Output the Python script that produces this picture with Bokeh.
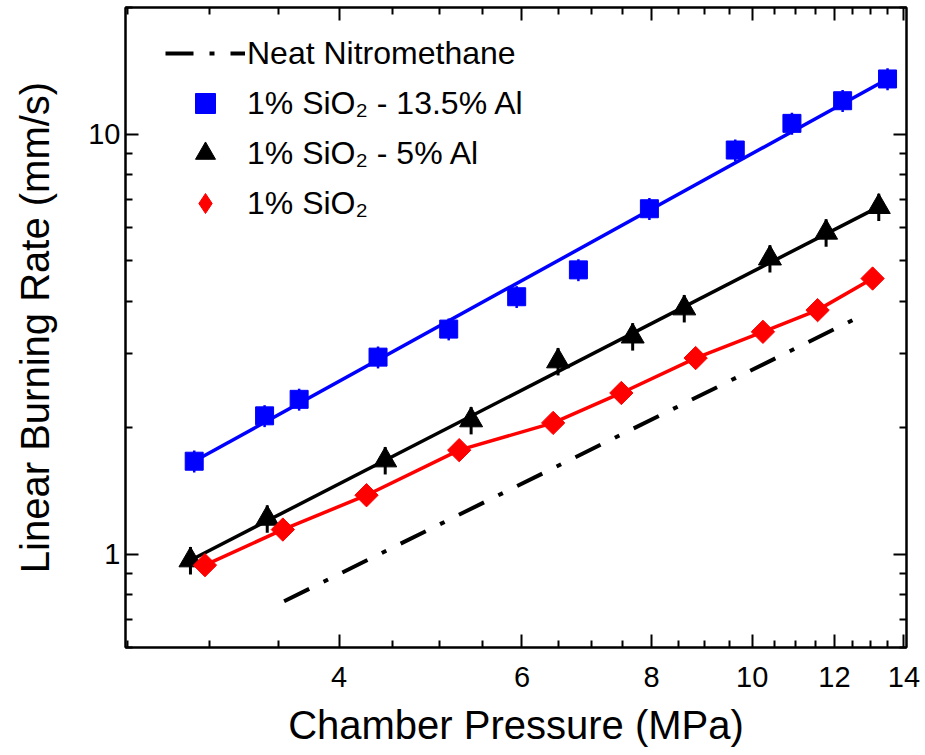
from bokeh.plotting import figure
from bokeh.models import (FixedTicker, LogAxis, Legend, LegendItem, BasicTickFormatter,
                          CustomLabelingPolicy)
from bokeh.embed import file_html
from bokeh.resources import INLINE

# ---------------- data ----------------
# Neat nitromethane: power-law fit line (end points)
neat_p = [3.54, 12.73]
neat_r = [0.773, 3.69]

# 1% SiO2 - 13.5% Al
al135_p = [2.90, 3.39, 3.66, 4.36, 5.10, 5.93, 6.80, 7.96, 9.63, 10.92, 12.22, 13.50]
al135_r = [1.665, 2.135, 2.337, 2.945, 3.434, 4.10, 4.75, 6.64, 9.16, 10.60, 12.00, 13.52]
al135_err = [0.06, 0.06, 0.06, 0.06, 0.06, 0.06, 0.06, 0.06, 0.06, 0.06, 0.06, 0.06]
al135_fit_p = [2.90, 13.50]
al135_fit_r = [1.665, 13.52]

# 1% SiO2 - 5% Al
al5_p = [2.876, 3.41, 4.43, 5.36, 6.50, 7.67, 8.60, 10.40, 11.78, 13.24]
al5_r = [0.968, 1.216, 1.674, 2.085, 2.88, 3.30, 3.85, 5.06, 5.83, 6.71]
al5_err = [0.075, 0.075, 0.075, 0.075, 0.075, 0.075, 0.075, 0.075, 0.075, 0.075]
al5_fit_p = [2.876, 13.24]
al5_fit_r = [0.968, 6.71]

# 1% SiO2
sio2_p = [2.97, 3.53, 4.25, 5.22, 6.43, 7.48, 8.82, 10.24, 11.56, 13.06]
sio2_r = [0.942, 1.145, 1.382, 1.769, 2.054, 2.42, 2.93, 3.383, 3.81, 4.53]

# ticks
x_major = [4, 6, 8, 10, 12, 14]
x_minor = [2.5, 3, 3.5, 4.5, 5, 5.5, 6.5, 7, 7.5, 8.5, 9, 9.5, 10.5, 11, 11.5, 12.5, 13, 13.5]
y_major = [1, 10]
y_minor = [0.6, 0.7, 0.8, 0.9, 2, 3, 4, 5, 6, 7, 8, 9, 20]

labels = ["Neat Nitromethane",
          "1% SiO\u2082 - 13.5% Al",
          "1% SiO\u2082 - 5% Al",
          "1% SiO\u2082"]

FONT = "Liberation Sans"

p = figure(width=922, height=752,
           x_axis_type="log", y_axis_type="log",
           x_range=(2.49, 14.08), y_range=(0.6, 20),
           output_backend="svg", toolbar_location=None,
           min_border_left=125, min_border_right=16,
           min_border_top=7, min_border_bottom=105)
p.grid.visible = False
p.background_fill_color = "white"
p.border_fill_color = "white"
p.outline_line_color = "black"
p.outline_line_width = 2

xt = FixedTicker(ticks=x_major, minor_ticks=x_minor)
yt = FixedTicker(ticks=y_major, minor_ticks=y_minor)

p.add_layout(LogAxis(ticker=xt), "above")
p.add_layout(LogAxis(ticker=yt), "right")

for ax in p.axis:
    ax.axis_line_color = "black"
    ax.axis_line_width = 2
    ax.major_tick_line_color = "black"
    ax.major_tick_line_width = 2
    ax.minor_tick_line_color = "black"
    ax.minor_tick_line_width = 2
    ax.major_tick_out = 0
    ax.major_tick_in = 13
    ax.minor_tick_out = 0
    ax.minor_tick_in = 7
    ax.major_label_text_font = FONT
    ax.major_label_text_font_size = "29px"
    ax.major_label_text_color = "black"
    ax.axis_label_text_font = FONT
    ax.axis_label_text_font_size = "40px"
    ax.axis_label_text_font_style = "normal"
    ax.axis_label_text_color = "black"
    ax.formatter = BasicTickFormatter()

p.xaxis.ticker = xt
p.yaxis.ticker = yt

bottom = p.below[0]
left = p.left[0]
bottom.axis_label = "Chamber Pressure (MPa)"
bottom.major_label_standoff = 19
bottom.axis_label_standoff = 13
left.axis_label = "Linear Burning Rate (mm/s)"
left.major_label_standoff = 5
left.axis_label_standoff = 28

# mirror axes: ticks only, no labels drawn
for ax in (p.above[0], p.right[0]):
    ax.major_label_text_font_size = "1px"
    ax.major_label_standoff = 0
    ax.axis_label_standoff = 0
    ax.major_label_policy = CustomLabelingPolicy(code="return []")

# ---------------- glyphs ----------------
r_neat = p.line(neat_p, neat_r, line_color="black", line_width=4,
                line_dash="28 16 5 16")

p.line(al135_fit_p, al135_fit_r, line_color="#0000FF", line_width=3.5)
p.line(al5_fit_p, al5_fit_r, line_color="black", line_width=3.5)
p.line(sio2_p, sio2_r, line_color="#FF0000", line_width=3.5)

# error bars
p.segment(x0=al135_p, x1=al135_p,
          y0=[r * (1 - e) for r, e in zip(al135_r, al135_err)],
          y1=[r * (1 + e) for r, e in zip(al135_r, al135_err)],
          line_color="#0000FF", line_width=2.5)
p.segment(x0=al5_p, x1=al5_p,
          y0=[r * (1 - e) for r, e in zip(al5_r, al5_err)],
          y1=[r * (1 + e) for r, e in zip(al5_r, al5_err)],
          line_color="black", line_width=3)

r_sq = p.scatter(al135_p, al135_r, marker="square", size=18,
                 fill_color="#0000FF", line_color="#0000FF", line_width=1)
r_tri = p.scatter(al5_p, al5_r, marker="triangle", size=23,
                  fill_color="black", line_color="black", line_width=1)
# diamond-shaped key for the legend (fully covered by the rotated squares below)
r_dia_key = p.scatter(sio2_p, sio2_r, marker="diamond", size=20,
                      fill_color="#FF0000", line_color="#FF0000", line_width=1)
r_dia = p.scatter(sio2_p, sio2_r, marker="square", size=16.5, angle=0.785398,
                  fill_color="#FF0000", line_color="#FF0000", line_width=1)

legend = Legend(items=[LegendItem(label=labels[0], renderers=[r_neat]),
                       LegendItem(label=labels[1], renderers=[r_sq]),
                       LegendItem(label=labels[2], renderers=[r_tri]),
                       LegendItem(label=labels[3], renderers=[r_dia_key])],
                location=(40, 419),
                glyph_width=80, glyph_height=50, label_height=50,
                spacing=0, padding=0, margin=0, label_standoff=2,
                label_text_font=FONT, label_text_font_size="32px",
                label_text_color="black",
                border_line_alpha=0, background_fill_alpha=0)
p.add_layout(legend)

open("out.html", "w").write(file_html(p, INLINE))
